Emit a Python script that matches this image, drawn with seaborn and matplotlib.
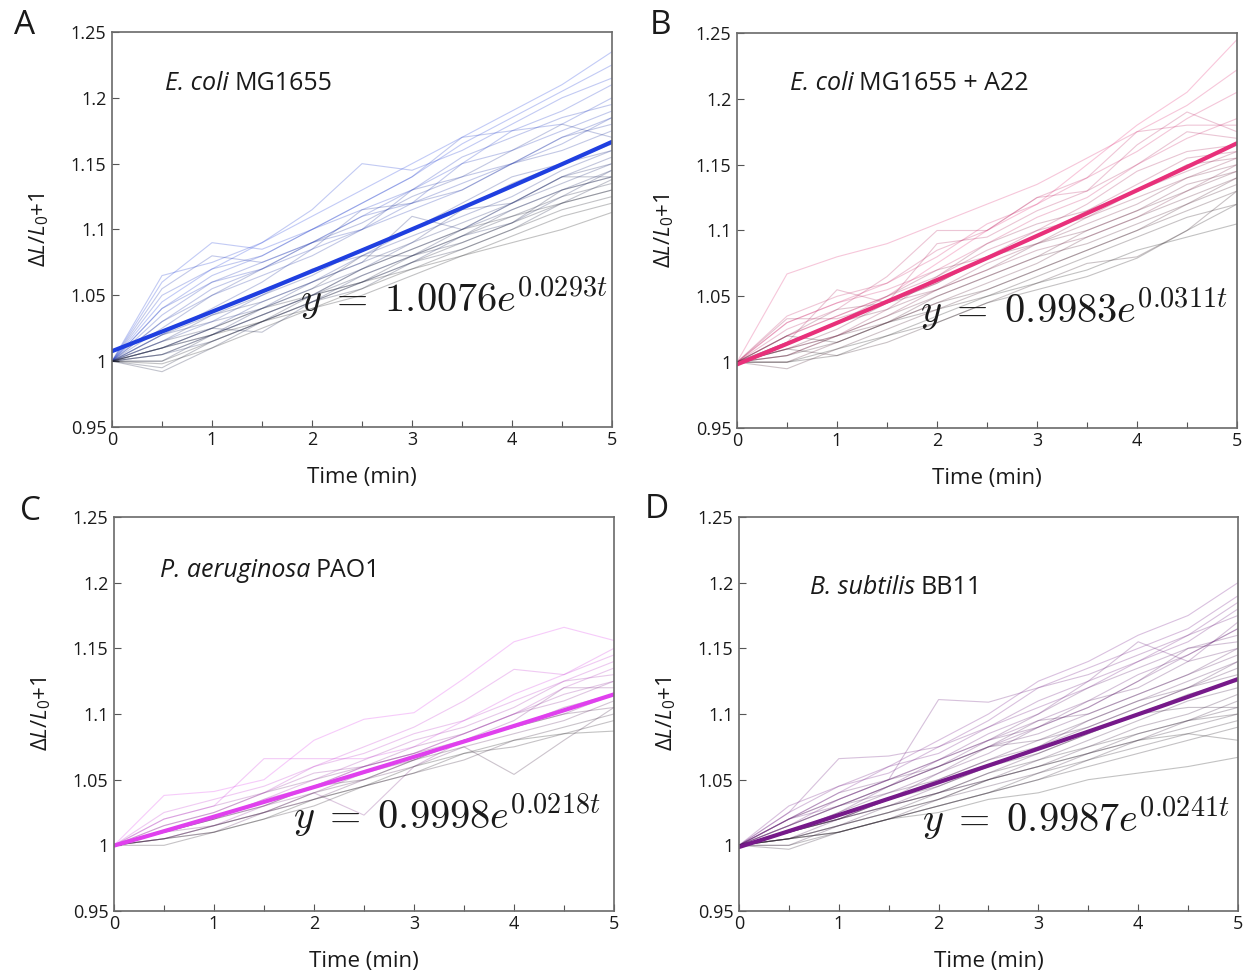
import numpy as np
import pandas as pd
import matplotlib
matplotlib.use("Agg")
import matplotlib.pyplot as plt
import seaborn as sns
from matplotlib.colors import to_rgb

sns.set_theme(style="white")
plt.rcParams['font.family'] = ['Open Sans', 'DejaVu Sans']
plt.rcParams['mathtext.fontset'] = 'custom'
plt.rcParams['mathtext.rm'] = 'Open Sans'
plt.rcParams['mathtext.it'] = 'Open Sans:italic'

# ---------------- data ----------------
time_min = [0, 0.5, 1, 1.5, 2, 2.5, 3, 3.5, 4, 4.5, 5]

traces_A = [
    [1, 1.045, 1.070, 1.090, 1.110, 1.130, 1.150, 1.170, 1.190, 1.210, 1.235],
    [1, 1.060, 1.090, 1.085, 1.100, 1.120, 1.140, 1.165, 1.185, 1.205, 1.225],
    [1, 1.065, 1.075, 1.090, 1.115, 1.150, 1.145, 1.160, 1.180, 1.200, 1.215],
    [1, 1.040, 1.065, 1.080, 1.100, 1.115, 1.130, 1.150, 1.175, 1.190, 1.210],
    [1, 1.050, 1.070, 1.080, 1.100, 1.120, 1.140, 1.170, 1.175, 1.180, 1.200],
    [1, 1.040, 1.060, 1.070, 1.090, 1.110, 1.130, 1.155, 1.170, 1.185, 1.195],
    [1, 1.035, 1.060, 1.075, 1.090, 1.110, 1.120, 1.150, 1.160, 1.175, 1.190],
    [1, 1.055, 1.080, 1.075, 1.090, 1.100, 1.115, 1.130, 1.150, 1.170, 1.185],
    [1, 1.030, 1.055, 1.070, 1.085, 1.100, 1.120, 1.135, 1.150, 1.165, 1.185],
    [1, 1.030, 1.050, 1.065, 1.080, 1.100, 1.130, 1.140, 1.150, 1.170, 1.180],
    [1, 1.020, 1.040, 1.060, 1.085, 1.115, 1.120, 1.130, 1.150, 1.160, 1.175],
    [1, 1.025, 1.050, 1.070, 1.090, 1.105, 1.125, 1.140, 1.160, 1.180, 1.170],
    [1, 1.015, 1.030, 1.050, 1.070, 1.080, 1.100, 1.120, 1.140, 1.150, 1.165],
    [1, 1.010, 1.025, 1.045, 1.060, 1.080, 1.095, 1.110, 1.125, 1.145, 1.160],
    [1, 1.020, 1.035, 1.050, 1.065, 1.085, 1.100, 1.115, 1.135, 1.150, 1.160],
    [1, 1.020, 1.030, 1.040, 1.060, 1.075, 1.110, 1.100, 1.120, 1.140, 1.155],
    [1, 1.010, 1.020, 1.035, 1.050, 1.070, 1.090, 1.115, 1.120, 1.135, 1.150],
    [1, 1.015, 1.035, 1.045, 1.060, 1.075, 1.090, 1.105, 1.120, 1.140, 1.150],
    [1, 1.005, 1.020, 1.040, 1.055, 1.070, 1.085, 1.100, 1.115, 1.130, 1.145],
    [1, 1.005, 1.015, 1.030, 1.045, 1.060, 1.075, 1.095, 1.105, 1.125, 1.145],
    [1, 1.010, 1.025, 1.022, 1.045, 1.065, 1.080, 1.100, 1.120, 1.140, 1.140],
    [1, 1.015, 1.025, 1.040, 1.055, 1.080, 1.080, 1.095, 1.115, 1.130, 1.140],
    [1, 1.000, 1.020, 1.035, 1.050, 1.065, 1.080, 1.090, 1.105, 1.130, 1.140],
    [1, 0.992, 1.010, 1.030, 1.045, 1.055, 1.075, 1.085, 1.100, 1.120, 1.138],
    [1, 0.995, 1.015, 1.030, 1.050, 1.060, 1.080, 1.095, 1.110, 1.125, 1.135],
    [1, 1.005, 1.020, 1.035, 1.050, 1.060, 1.075, 1.090, 1.105, 1.120, 1.130],
    [1, 1.010, 1.025, 1.040, 1.050, 1.070, 1.085, 1.100, 1.110, 1.120, 1.130],
    [1, 1.000, 1.015, 1.030, 1.045, 1.060, 1.070, 1.085, 1.100, 1.115, 1.125],
    [1, 0.998, 1.010, 1.025, 1.040, 1.050, 1.065, 1.080, 1.095, 1.110, 1.120],
    [1, 1.010, 1.020, 1.030, 1.040, 1.055, 1.070, 1.080, 1.090, 1.100, 1.113],
]

traces_B = [
    [1, 1.020, 1.035, 1.050, 1.075, 1.100, 1.120, 1.150, 1.180, 1.205, 1.245],
    [1, 1.067, 1.080, 1.090, 1.105, 1.120, 1.135, 1.155, 1.175, 1.195, 1.222],
    [1, 1.030, 1.045, 1.060, 1.080, 1.105, 1.120, 1.140, 1.160, 1.185, 1.205],
    [1, 1.030, 1.045, 1.055, 1.070, 1.090, 1.110, 1.125, 1.150, 1.170, 1.185],
    [1, 1.035, 1.050, 1.060, 1.085, 1.100, 1.125, 1.140, 1.175, 1.180, 1.180],
    [1, 1.025, 1.040, 1.065, 1.100, 1.100, 1.125, 1.130, 1.165, 1.190, 1.175],
    [1, 1.015, 1.055, 1.045, 1.090, 1.095, 1.115, 1.130, 1.150, 1.175, 1.170],
    [1, 1.020, 1.035, 1.050, 1.065, 1.085, 1.100, 1.120, 1.145, 1.160, 1.165],
    [1, 1.033, 1.033, 1.045, 1.060, 1.080, 1.095, 1.115, 1.135, 1.155, 1.160],
    [1, 1.015, 1.030, 1.050, 1.070, 1.080, 1.100, 1.110, 1.130, 1.145, 1.160],
    [1, 1.010, 1.020, 1.040, 1.065, 1.090, 1.105, 1.115, 1.130, 1.150, 1.155],
    [1, 1.020, 1.040, 1.045, 1.055, 1.075, 1.090, 1.110, 1.125, 1.140, 1.155],
    [1, 1.005, 1.020, 1.035, 1.055, 1.070, 1.085, 1.095, 1.110, 1.130, 1.150],
    [1, 1.015, 1.030, 1.040, 1.055, 1.070, 1.090, 1.105, 1.120, 1.140, 1.150],
    [1, 1.010, 1.025, 1.045, 1.060, 1.080, 1.090, 1.100, 1.115, 1.135, 1.145],
    [1, 1.005, 1.020, 1.035, 1.050, 1.065, 1.080, 1.100, 1.115, 1.130, 1.145],
    [1, 1.000, 1.015, 1.030, 1.045, 1.060, 1.075, 1.095, 1.110, 1.125, 1.140],
    [1, 1.010, 1.020, 1.030, 1.050, 1.065, 1.080, 1.090, 1.105, 1.120, 1.140],
    [1, 0.995, 1.010, 1.025, 1.040, 1.055, 1.070, 1.085, 1.100, 1.120, 1.135],
    [1, 1.005, 1.015, 1.030, 1.045, 1.055, 1.070, 1.085, 1.100, 1.115, 1.130],
    [1, 1.010, 1.005, 1.015, 1.030, 1.045, 1.060, 1.075, 1.080, 1.100, 1.130],
    [1, 1.020, 1.015, 1.030, 1.040, 1.050, 1.065, 1.080, 1.095, 1.110, 1.120],
    [1, 1.000, 1.005, 1.020, 1.030, 1.045, 1.055, 1.065, 1.079, 1.100, 1.120],
    [1, 1.000, 1.010, 1.020, 1.035, 1.050, 1.060, 1.070, 1.085, 1.095, 1.105],
]

traces_C = [
    [1, 1.038, 1.041, 1.050, 1.080, 1.096, 1.101, 1.127, 1.155, 1.166, 1.156],
    [1, 1.020, 1.030, 1.066, 1.066, 1.066, 1.075, 1.095, 1.115, 1.130, 1.150],
    [1, 1.025, 1.035, 1.045, 1.060, 1.075, 1.090, 1.110, 1.134, 1.130, 1.145],
    [1, 1.015, 1.025, 1.040, 1.060, 1.070, 1.085, 1.095, 1.110, 1.125, 1.140],
    [1, 1.010, 1.020, 1.035, 1.045, 1.060, 1.070, 1.085, 1.100, 1.120, 1.135],
    [1, 1.010, 1.020, 1.035, 1.050, 1.065, 1.080, 1.090, 1.105, 1.125, 1.130],
    [1, 1.020, 1.030, 1.040, 1.055, 1.060, 1.070, 1.085, 1.100, 1.115, 1.125],
    [1, 1.005, 1.015, 1.030, 1.045, 1.060, 1.075, 1.085, 1.100, 1.110, 1.125],
    [1, 1.010, 1.020, 1.030, 1.040, 1.023, 1.060, 1.080, 1.095, 1.120, 1.120],
    [1, 1.015, 1.025, 1.040, 1.050, 1.060, 1.070, 1.080, 1.090, 1.105, 1.115],
    [1, 1.010, 1.015, 1.025, 1.040, 1.055, 1.065, 1.080, 1.090, 1.100, 1.115],
    [1, 1.005, 1.010, 1.025, 1.035, 1.050, 1.060, 1.075, 1.085, 1.095, 1.110],
    [1, 1.005, 1.015, 1.025, 1.040, 1.050, 1.065, 1.080, 1.090, 1.100, 1.105],
    [1, 1.010, 1.020, 1.030, 1.045, 1.050, 1.065, 1.075, 1.054, 1.080, 1.105],
    [1, 1.005, 1.015, 1.025, 1.035, 1.045, 1.055, 1.065, 1.080, 1.090, 1.100],
    [1, 1.000, 1.010, 1.020, 1.030, 1.045, 1.055, 1.070, 1.075, 1.085, 1.095],
    [1, 1.005, 1.010, 1.020, 1.035, 1.045, 1.060, 1.070, 1.080, 1.085, 1.087],
]

traces_D = [
    [1, 1.020, 1.040, 1.060, 1.080, 1.100, 1.125, 1.140, 1.160, 1.175, 1.200],
    [1, 1.030, 1.045, 1.055, 1.075, 1.095, 1.120, 1.135, 1.150, 1.165, 1.190],
    [1, 1.025, 1.045, 1.060, 1.070, 1.090, 1.105, 1.120, 1.140, 1.160, 1.185],
    [1, 1.025, 1.066, 1.068, 1.075, 1.090, 1.110, 1.125, 1.140, 1.155, 1.180],
    [1, 1.015, 1.035, 1.050, 1.111, 1.109, 1.120, 1.130, 1.145, 1.160, 1.175],
    [1, 1.020, 1.030, 1.045, 1.065, 1.085, 1.100, 1.125, 1.155, 1.140, 1.170],
    [1, 1.020, 1.035, 1.050, 1.065, 1.080, 1.095, 1.110, 1.130, 1.145, 1.165],
    [1, 1.015, 1.030, 1.045, 1.060, 1.075, 1.090, 1.105, 1.125, 1.145, 1.165],
    [1, 1.010, 1.025, 1.045, 1.060, 1.080, 1.100, 1.120, 1.135, 1.150, 1.160],
    [1, 1.020, 1.040, 1.050, 1.065, 1.080, 1.090, 1.105, 1.125, 1.150, 1.155],
    [1, 1.015, 1.030, 1.040, 1.055, 1.070, 1.090, 1.110, 1.120, 1.140, 1.150],
    [1, 1.020, 1.035, 1.050, 1.060, 1.075, 1.085, 1.100, 1.115, 1.130, 1.150],
    [1, 1.010, 1.020, 1.035, 1.055, 1.075, 1.095, 1.100, 1.115, 1.130, 1.145],
    [1, 1.005, 1.020, 1.030, 1.045, 1.060, 1.075, 1.095, 1.110, 1.125, 1.140],
    [1, 1.010, 1.020, 1.035, 1.050, 1.065, 1.075, 1.090, 1.105, 1.120, 1.140],
    [1, 1.010, 1.025, 1.040, 1.050, 1.065, 1.080, 1.090, 1.105, 1.120, 1.135],
    [1, 1.015, 1.030, 1.045, 1.060, 1.075, 1.080, 1.095, 1.110, 1.120, 1.130],
    [1, 1.005, 1.015, 1.030, 1.040, 1.055, 1.070, 1.085, 1.100, 1.115, 1.125],
    [1, 1.010, 1.020, 1.030, 1.040, 1.050, 1.065, 1.080, 1.095, 1.110, 1.120],
    [1, 1.000, 1.015, 1.025, 1.035, 1.050, 1.060, 1.075, 1.090, 1.100, 1.115],
    [1, 1.005, 1.010, 1.020, 1.035, 1.045, 1.055, 1.070, 1.080, 1.095, 1.110],
    [1, 1.010, 1.020, 1.035, 1.045, 1.060, 1.070, 1.085, 1.100, 1.105, 1.105],
    [1, 1.005, 1.015, 1.025, 1.040, 1.050, 1.060, 1.070, 1.085, 1.095, 1.105],
    [1, 0.997, 1.010, 1.020, 1.030, 1.040, 1.050, 1.065, 1.080, 1.090, 1.100],
    [1, 1.010, 1.020, 1.030, 1.040, 1.055, 1.065, 1.075, 1.085, 1.095, 1.100],
    [1, 1.000, 1.010, 1.020, 1.030, 1.040, 1.055, 1.065, 1.075, 1.085, 1.095],
    [1, 1.005, 1.010, 1.020, 1.030, 1.040, 1.050, 1.060, 1.070, 1.080, 1.090],
    [1, 1.005, 1.015, 1.025, 1.035, 1.050, 1.060, 1.070, 1.080, 1.085, 1.080],
    [1, 1.005, 1.010, 1.020, 1.025, 1.035, 1.040, 1.050, 1.055, 1.060, 1.067],
]

panel_letters = ["A", "B", "C", "D"]
strain_italic = ["E. coli", "E. coli", "P. aeruginosa", "B. subtilis"]
strain_plain = ["MG1655", "MG1655 + A22", "PAO1", "BB11"]
fit_a = [1.0076, 0.9983, 0.9998, 0.9987]
fit_b = [0.0293, 0.0311, 0.0218, 0.0241]
fit_colors = ["#1f3fe0", "#e8307a", "#e040ee", "#76198a"]
all_traces = [traces_A, traces_B, traces_C, traces_D]

x_ticks = [0, 1, 2, 3, 4, 5]
y_ticks = [0.95, 1.0, 1.05, 1.1, 1.15, 1.2, 1.25]
y_ticklabels = ["0.95", "1", "1.05", "1.1", "1.15", "1.2", "1.25"]

# ---------------- layout ----------------
W, H = 1247, 976
fig = plt.figure(figsize=(W / 100, H / 100), dpi=100)
boxes = [(112, 32, 612, 427), (737, 33, 1237, 428),
         (114, 517, 614, 911), (739, 517, 1238, 911)]
label_pos = [(0.53, 1.211), (0.53, 1.212), (0.46, 1.209), (0.71, 1.196)]
eq_pos = [(1.88, 1.048), (1.83, 1.040), (1.79, 1.023), (1.83, 1.021)]
letter_pos = [(25, 25), (660, 25), (30, 512), (657, 510)]

for i in range(4):
    l, t, r, b = boxes[i]
    ax = fig.add_axes([l / W, 1 - b / H, (r - l) / W, (b - t) / H])
    traces = all_traces[i]
    n = len(traces)
    rows = []
    for k, tr in enumerate(traces):
        for tt, v in zip(time_min, tr):
            rows.append((tt, v, k))
    df = pd.DataFrame(rows, columns=["time", "value", "cell"])
    # colour by rank of final value: top = strain colour, bottom = dark grey
    finals = np.array([tr[-1] for tr in traces])
    ranks = np.argsort(np.argsort(-finals))
    base = np.array(to_rgb(fit_colors[i]))
    dark = np.array([0.12, 0.12, 0.12])
    pal = []
    for k in range(n):
        f = ranks[k] / max(n - 1, 1)
        c = base * (1 - f) + dark * f
        pal.append(tuple(c))
    sns.lineplot(data=df, x="time", y="value", hue="cell", palette=pal,
                 estimator=None, legend=False, linewidth=0.8, alpha=0.27, ax=ax)

    tfit = np.linspace(0, 5, 100)
    dfit = pd.DataFrame({"time": tfit, "value": fit_a[i] * np.exp(fit_b[i] * tfit)})
    sns.lineplot(data=dfit, x="time", y="value", color=fit_colors[i],
                 linewidth=3, ax=ax)

    ax.set_xlim(0, 5)
    ax.set_ylim(0.95, 1.25)
    ax.set_xticks(x_ticks)
    ax.set_xticks([0.5, 1.5, 2.5, 3.5, 4.5], minor=True)
    ax.set_yticks(y_ticks)
    ax.set_yticklabels(y_ticklabels)
    ax.tick_params(axis="both", which="both", direction="in", left=True,
                   bottom=True, colors="#555555", labelcolor="#1a1a1a",
                   labelsize=13, pad=4)
    ax.tick_params(which="major", length=5, width=0.8)
    ax.tick_params(which="minor", length=4, width=0.8)
    ax.tick_params(axis="x", pad=3)
    for s in ax.spines.values():
        s.set_color("#6a6a6a")
        s.set_linewidth(1.2)
    ax.set_xlabel("Time (min)", fontsize=16, color="#1a1a1a", labelpad=13)
    ax.set_ylabel("Δ$L/L_0$+1", fontsize=16, color="#1a1a1a", labelpad=14)

    lx, ly = label_pos[i]
    t1 = ax.text(lx, ly, strain_italic[i], fontsize=18, style="italic",
                 color="#1a1a1a", va="center", ha="left")
    ax.annotate(strain_plain[i], xy=(1, 0.5), xycoords=t1, xytext=(4, 0),
                textcoords="offset points", fontsize=18, color="#1a1a1a",
                va="center", ha="left")

    ex, ey = eq_pos[i]
    ax.text(ex, ey, "$y\\;=\\;%.4fe^{%.4ft}$" % (fit_a[i], fit_b[i]),
            fontsize=29, math_fontfamily="cm", color="#1a1a1a",
            va="center", ha="left")

    px, py = letter_pos[i]
    fig.text(px / W, 1 - py / H, panel_letters[i], fontsize=24,
             ha="center", va="center", color="#1a1a1a")

fig.savefig("out.png", dpi=100, facecolor="white")
